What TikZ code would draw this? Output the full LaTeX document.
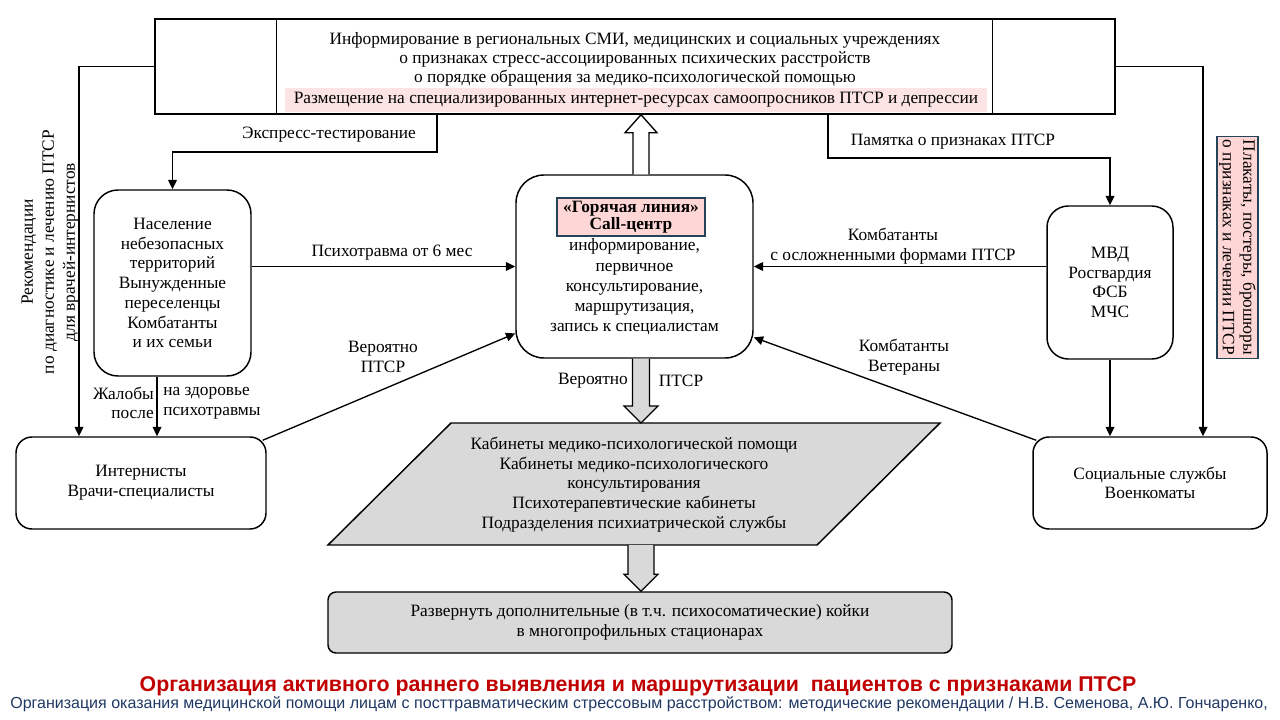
\documentclass[tikz,border=0pt]{standalone}
\usepackage{fontspec}
\setmainfont{Liberation Serif}
\setsansfont{Liberation Sans}
\usetikzlibrary{arrows.meta,calc}
\definecolor{pinkbg}{RGB}{252,228,228}
\definecolor{hotpink}{RGB}{255,214,214}
\definecolor{bordteal}{RGB}{38,68,88}
\definecolor{grayfill}{RGB}{217,217,217}
\definecolor{titlered}{RGB}{192,0,0}
\definecolor{citeblue}{RGB}{31,56,100}
\begin{document}
\begin{tikzpicture}[x=0.75pt,y=-0.75pt,
  font=\fontsize{13}{14.8}\selectfont,
  box/.style={draw, line width=1.1pt, rounded corners=#1, align=center, inner sep=0pt},
  box/.default=14pt,
  arr/.style={line width=1pt, -{Triangle[length=7pt,width=6.5pt]}},
  lbl/.style={align=center, inner sep=0pt},
  blockw/.style={line width=1pt, fill=white},
  blockg/.style={line width=1pt, fill=grayfill}]
\useasboundingbox (0,0) rectangle (1280,720);

% top box
\node[draw, line width=1.1pt, minimum width=720pt, minimum height=71.25pt, inner sep=0pt] (top) at (635,66.5) {};
\draw[line width=1.1pt] ($(top.north west)+(122,0)$) -- ($(top.south west)+(122,0)$);
\draw[line width=1.1pt] ($(top.north east)+(-123,0)$) -- ($(top.south east)+(-123,0)$);
\node[lbl, font=\fontsize{13}{14.3}\selectfont] (toptext) at (635,59) {Информирование в региональных СМИ, медицинских и социальных учреждениях\\о признаках стресс-ассоциированных психических расстройств\\о порядке обращения за медико-психологической помощью};
\node[fill=pinkbg, minimum width=526.5pt, minimum height=18pt, inner sep=0pt] (topweb) at (636,100) {Размещение на специализированных интернет-ресурсах самоопросников ПТСР и депрессии};

% main boxes
\node[box=18pt, minimum width=117.75pt, minimum height=139.5pt] (pop) at (172.5,283) {Население\\небезопасных\\территорий\\Вынужденные\\переселенцы\\Комбатанты\\и их семьи};
\node[box=21pt, minimum width=177.75pt, minimum height=137.25pt] (cc) at (634.5,266.5) {};
\node[draw=bordteal, fill=hotpink, line width=0.9pt, minimum width=111pt, minimum height=28.5pt, inner sep=0pt, align=center, font=\bfseries\fontsize{13}{12.8}\selectfont] (hot) at (631,217) {«Горячая линия»\\Call-центр};
\node[lbl, font=\fontsize{13}{15.2}\selectfont] (cctext) at (634.5,287) {информирование,\\первичное\\консультирование,\\маршрутизация,\\запись к специалистам};
\node[box=16pt, minimum width=94.5pt, minimum height=114.75pt] (mvd) at (1110,282.5) {МВД\\Росгвардия\\ФСБ\\МЧС};
\node[box=12pt, minimum width=187.5pt, minimum height=69pt] (int) at (141,483) {Интернисты\\Врачи-специалисты};
\node[box=12pt, minimum width=175.5pt, minimum height=69pt] (soc) at (1150,483) {Социальные службы\\Военкоматы};
\node[box=6pt, fill=grayfill, minimum width=468pt, minimum height=45.75pt] (bed) at (640,622.5) {Развернуть дополнительные (в т.ч. психосоматические) койки\\в многопрофильных стационарах};

% parallelogram
\draw[line width=1.1pt, fill=grayfill] (451,423) -- (940,423) -- (817,545) -- (328,545) -- cycle;
\coordinate (ptop) at (641,423);
\coordinate (pbot) at (641,545);
\node[lbl] (par) at (634,484.6) {Кабинеты медико-психологической помощи\\Кабинеты медико-психологического\\консультирования\\Психотерапевтические кабинеты\\Подразделения психиатрической службы};

% rotated side texts
\node[lbl, rotate=90, font=\fontsize{13}{15.8}\selectfont] (recs) at (50,252) {Рекомендации\\по диагностике и лечению ПТСР\\для врачей-интернистов};
\node[draw=bordteal, fill=hotpink, line width=0.9pt, rotate=-90, minimum width=167pt, minimum height=30.75pt, inner sep=0pt, align=center, font=\fontsize{13}{15.5}\selectfont] (posters) at (1237.5,247.5) {Плакаты, постеры, брошюры\\о признаках и лечении ПТСР};

% block arrows
\coordinate (ua) at (641,0);
\path (ua |- cc.north) coordinate (ub) (ua |- top.south) coordinate (ut);
\draw[blockw] ($(ub)+(-8,0)$) -- ($(ut)+(-8,18)$) -- ($(ut)+(-16,18)$) -- (ut) -- ($(ut)+(16,18)$) -- ($(ut)+(8,18)$) -- ($(ub)+(8,0)$);
\path (ua |- cc.south) coordinate (db);
\draw[blockg] ($(db)+(-8.5,0)$) -- ($(ptop)+(-8.5,-17)$) -- ($(ptop)+(-17,-17)$) -- (ptop) -- ($(ptop)+(17,-17)$) -- ($(ptop)+(8.5,-17)$) -- ($(db)+(8.5,0)$);
\path (ua |- bed.north) coordinate (bt);
\draw[blockg] ($(pbot)+(-13,0)$) -- ($(bt)+(-13,-17)$) -- ($(bt)+(-17,-17)$) -- (bt) -- ($(bt)+(17,-17)$) -- ($(bt)+(13,-17)$) -- ($(pbot)+(13,0)$);

% connectors
\coordinate (Lbend) at (79,66.5);
\draw[arr] (top.west) -- (Lbend) -- (Lbend |- int.north);
\coordinate (Rbend) at (1203,66.5);
\draw[arr] (top.east) -- (Rbend) -- (Rbend |- soc.north);
\coordinate (e1) at (437,152);
\draw[arr] (e1 |- top.south) -- (e1) -| (pop.north);
\coordinate (m1) at (828,158);
\draw[arr] (m1 |- top.south) -- (m1) -| (mvd.north);
\draw[arr] (pop.east |- cc.west) -- (cc.west);
\draw[arr] (mvd.west |- cc.east) -- (cc.east);
\draw[arr] ([xshift=-3pt,yshift=-3pt]int.north east) -- ([yshift=19pt]cc.south west);
\draw[arr] ([xshift=3pt,yshift=-3pt]soc.north west) -- ([yshift=16pt]cc.south east);
\coordinate (p1) at ([xshift=-11.6pt]pop.south);
\draw[arr] (p1) -- (p1 |- int.north);
\draw[arr] (mvd.south) -- (mvd.south |- soc.north);

% labels
\node[lbl] (lexp) at (329,135) {Экспресс-тестирование};
\node[lbl] (lmemo) at (953,142) {Памятка о признаках ПТСР};
\node[lbl] (lpsy) at (392,253) {Психотравма от 6 мес};
\node[lbl] (lcomb) at (893,246) {Комбатанты\\с осложненными формами ПТСР};
\node[lbl] (lver) at (383,357) {Вероятно\\ПТСР};
\node[lbl] (lvet) at (904,357) {Комбатанты\\Ветераны};
\node[lbl] (lv1) at (593,381) {Вероятно};
\node[lbl] (lv2) at (681,381) {ПТСР};
\node[lbl, align=right, anchor=east] (lcompl) at (154,403) {Жалобы\\после};
\node[lbl, align=left, anchor=west] (lcompr) at (163,403) {на здоровье\\психотравмы};

% title and citation
\node[lbl, font=\sffamily\bfseries\fontsize{16}{18}\selectfont, text=titlered] (title) at (638,686) {Организация активного раннего выявления и маршрутизации\ \ пациентов с признаками ПТСР};
\node[lbl, font=\sffamily\fontsize{12}{14}\selectfont, text=citeblue] (cite) at (639,704) {\makebox[943pt][s]{Организация оказания медицинской помощи лицам с посттравматическим стрессовым расстройством: методические рекомендации / Н.В. Семенова, А.Ю. Гончаренко,}};
\end{tikzpicture}
\end{document}
